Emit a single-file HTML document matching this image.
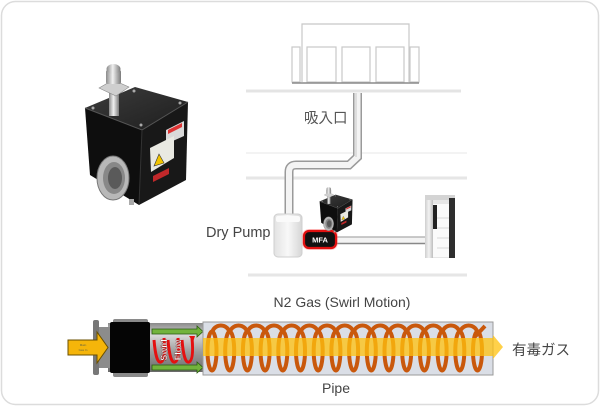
<!DOCTYPE html>
<html><head><meta charset="utf-8"><style>
html,body{margin:0;padding:0;background:#fff;}
svg{display:block;}
text{font-family:"Liberation Sans","Noto Sans CJK JP",sans-serif;}
</style></head><body>
<svg width="600" height="406" viewBox="0 0 600 406" xmlns="http://www.w3.org/2000/svg">
<defs>
<linearGradient id="top" x1="0" y1="0" x2="1" y2="1"><stop offset="0" stop-color="#3c3c3c"/><stop offset="1" stop-color="#1e1e1e"/></linearGradient>
<linearGradient id="silver" x1="0" y1="0" x2="1" y2="0"><stop offset="0" stop-color="#8a8a8a"/><stop offset="0.45" stop-color="#f0f0f0"/><stop offset="1" stop-color="#7a7a7a"/></linearGradient>
<linearGradient id="cyl" x1="0" y1="0" x2="0" y2="1"><stop offset="0" stop-color="#8a8a8a"/><stop offset="0.25" stop-color="#d8d8d8"/><stop offset="0.6" stop-color="#9a9a9a"/><stop offset="1" stop-color="#6a6a6a"/></linearGradient>
<linearGradient id="pump" x1="0" y1="0" x2="1" y2="0"><stop offset="0" stop-color="#e2e2e2"/><stop offset="0.5" stop-color="#f8f8f8"/><stop offset="1" stop-color="#d6d6d6"/></linearGradient>
<linearGradient id="post" x1="0" y1="0" x2="1" y2="0"><stop offset="0" stop-color="#cfcfcf"/><stop offset="0.5" stop-color="#f2f2f2"/><stop offset="1" stop-color="#bdbdbd"/></linearGradient>
<g id="cube">
  <polygon points="85,108 142,130 139,205 90,175" fill="#0e0e0e"/>
  <polygon points="142,130 188,102 186,180 139,205" fill="#181818"/>
  <polygon points="85,108 135,87 188,102 142,130" fill="url(#top)"/>
  <polyline points="85,108 142,130 188,102" fill="none" stroke="#555" stroke-width="1"/>
  <line x1="142" y1="130" x2="139" y2="205" stroke="#333" stroke-width="1"/>
  <circle cx="93" cy="108" r="1.5" fill="#aaa"/><circle cx="134" cy="91" r="1.5" fill="#aaa"/>
  <circle cx="180" cy="103" r="1.5" fill="#aaa"/><circle cx="141" cy="125" r="1.5" fill="#aaa"/>
  <rect x="109" y="92" width="10" height="24" fill="url(#silver)"/>
  <polygon points="99,88 113,80 129,87 116,96" fill="#cfcfcf" stroke="#888" stroke-width="0.6"/>
  <rect x="106" y="70" width="15" height="14" rx="2" fill="url(#silver)"/>
  <ellipse cx="113.5" cy="69" rx="7" ry="5" fill="url(#silver)"/>
  <polygon points="166,130 184,121 184,136 166,144" fill="#d9d9d9"/>
  <polygon points="168,130 182,123 182,127 168,134" fill="#d33"/>
  <polygon points="150,148 174,136 174,158 151,172" fill="#e9e9e2"/>
  <polygon points="154,166 159,154 164,163" fill="#f2c400" stroke="#333" stroke-width="0.6"/>
  <polygon points="153,176 169,168 169,174 153,182" fill="#c0282a"/>
  <ellipse cx="113" cy="178" rx="16" ry="22" fill="#b8b8b8" stroke="#777" stroke-width="1"/>
  <ellipse cx="114" cy="178" rx="11" ry="16" fill="#888"/>
  <ellipse cx="115" cy="178" rx="7" ry="11" fill="#5a5a5a"/>
  <rect x="129" y="199" width="5" height="6" fill="#aaa"/>
</g>
</defs>

<rect x="1.5" y="1.5" width="597" height="403" rx="14" fill="#fff" stroke="#dcdcdc" stroke-width="1.5"/>

<use href="#cube"/>

<g fill="none" stroke="#c8c8c8" stroke-width="1.2">
  <polyline points="302,82 302,24 409,24 409,82"/>
  <rect x="292" y="47" width="8" height="35"/>
  <rect x="410" y="47" width="9" height="35"/>
  <rect x="307" y="47" width="29" height="35"/>
  <rect x="342" y="47" width="28" height="35"/>
  <rect x="376" y="47" width="28" height="35"/>
</g>
<line x1="292" y1="83" x2="419" y2="83" stroke="#8a8a8a" stroke-width="1.5"/>

<line x1="246" y1="91" x2="461" y2="91" stroke="#e4e4e4" stroke-width="3"/>
<line x1="246" y1="153" x2="467" y2="153" stroke="#f3f3f3" stroke-width="2"/>
<line x1="246" y1="178" x2="467" y2="178" stroke="#e6e6e6" stroke-width="3"/>
<line x1="248" y1="275" x2="467" y2="275" stroke="#e6e6e6" stroke-width="3"/>

<path d="M357.5,93 L357.5,157 L349,165 L296,165 Q289,165 289,172 L289,214" fill="none" stroke="#9a9a9a" stroke-width="9"/>
<path d="M357.5,93 L357.5,157 L349,165 L296,165 Q289,165 289,172 L289,214" fill="none" stroke="#f4f4f4" stroke-width="6"/>
<path d="M356,93 L356,157" stroke="#c8c8c8" stroke-width="1"/>

<text x="304" y="123" font-size="14.5" fill="#555">吸入口</text>

<rect x="336" y="237" width="91" height="7" fill="#f3f3f3"/>
<line x1="336" y1="237" x2="427" y2="237" stroke="#aaa" stroke-width="1.2"/>
<line x1="336" y1="243.5" x2="427" y2="243.5" stroke="#888" stroke-width="1.4"/>

<rect x="274" y="214" width="28" height="43" rx="4" fill="url(#pump)" stroke="#cfcfcf" stroke-width="1"/>
<rect x="276" y="216" width="24" height="6" rx="2" fill="#fafafa"/>
<text x="206" y="237" font-size="14.5" fill="#444">Dry Pump</text>

<rect x="302" y="229" width="36" height="21" rx="7" fill="#f66" opacity="0.35"/>
<rect x="304" y="231" width="32" height="17" rx="5" fill="#111" stroke="#e01010" stroke-width="2.2"/>
<text x="320" y="242.5" font-size="7.5" font-weight="bold" fill="#fff" text-anchor="middle">MFA</text>

<use href="#cube" transform="translate(292.4,166.8) scale(0.32)"/>

<rect x="425" y="195" width="30" height="63" fill="#e6e6e6"/>
<rect x="425" y="195" width="8" height="63" fill="url(#post)"/>
<rect x="425" y="195" width="30" height="5" fill="#d4d4d4"/>
<rect x="449" y="198" width="6" height="60" fill="#2e2e2e"/>
<rect x="433" y="204" width="16" height="53" fill="#fafafa"/>
<rect x="433" y="205" width="4" height="24" fill="#222"/>
<g stroke="#d0d0d0" stroke-width="0.8">
<line x1="437" y1="218" x2="449" y2="218"/><line x1="437" y1="228" x2="449" y2="228"/>
<line x1="437" y1="238" x2="449" y2="238"/><line x1="437" y1="248" x2="449" y2="248"/>
</g>

<text x="342" y="307" font-size="14" fill="#444" text-anchor="middle">N2 Gas (Swirl Motion)</text>

<rect x="108" y="323" width="95" height="49" fill="url(#cyl)"/>
<rect x="93" y="320" width="6" height="55" rx="2" fill="#777"/>
<rect x="99" y="327" width="13" height="41" fill="#8c8c8c"/>
<rect x="113" y="319" width="35" height="58" rx="2" fill="#8a8a8a"/>
<rect x="110" y="322" width="40" height="51" rx="2" fill="#050505"/>

<polygon points="68,340 97,340 97,332 108,347.5 97,363 97,355 68,355" fill="#f5b50a" stroke="#6b5000" stroke-width="1"/>
<text x="83" y="346" font-size="3" fill="#664" text-anchor="middle">Main</text>
<text x="83" y="351" font-size="3" fill="#664" text-anchor="middle">Gas In</text>

<g fill="none" stroke="#e41010" stroke-width="3">
<path d="M154,340 Q156,364 161,362 Q166,360 164,338"/>
<path d="M168,340 Q170,364 175,362 Q180,360 178,338"/>
<path d="M182,340 Q184,364 189,362 Q194,360 192,338"/>
</g>
<polygon points="189,336 193,342 195,336" fill="#e41010"/>
<text transform="translate(167,350) rotate(-90)" font-size="9" font-weight="bold" fill="#fff" stroke="#600" stroke-width="0.3" text-anchor="middle">Swirl</text>
<text transform="translate(181,350) rotate(-90)" font-size="9" font-weight="bold" fill="#fff" stroke="#600" stroke-width="0.3" text-anchor="middle">Flow</text>

<polygon points="152,329 197,329 197,326 203,331.5 197,337 197,334 152,334" fill="#72b33c" stroke="#2a5a10" stroke-width="0.8"/>
<polygon points="152,365 197,365 197,362 203,367.5 197,373 197,370 152,370" fill="#72b33c" stroke="#2a5a10" stroke-width="0.8"/>

<rect x="203" y="322" width="290" height="53" fill="#dadee6" stroke="#9a9a9a" stroke-width="1"/>

<g fill="none" stroke="#c9580c" stroke-width="4">
<path d="M212,334 A8.85,8.5 0 0 1 229.7,334 A8.85,8.5 0 0 1 247.4,334 A8.85,8.5 0 0 1 265.1,334 A8.85,8.5 0 0 1 282.8,334 A8.85,8.5 0 0 1 300.5,334 A8.85,8.5 0 0 1 318.2,334 A8.85,8.5 0 0 1 335.9,334 A8.85,8.5 0 0 1 353.6,334 A8.85,8.5 0 0 1 371.3,334 A8.85,8.5 0 0 1 389,334 A8.85,8.5 0 0 1 406.7,334 A8.85,8.5 0 0 1 424.4,334 A8.85,8.5 0 0 1 442.1,334 A8.85,8.5 0 0 1 459.8,334 A8.85,8.5 0 0 1 477.5,334 L485,326"/>
<ellipse cx="212" cy="351" rx="4.5" ry="19.5"/><ellipse cx="229.7" cy="351" rx="4.5" ry="19.5"/>
<ellipse cx="247.4" cy="351" rx="4.5" ry="19.5"/><ellipse cx="265.1" cy="351" rx="4.5" ry="19.5"/>
<ellipse cx="282.8" cy="351" rx="4.5" ry="19.5"/><ellipse cx="300.5" cy="351" rx="4.5" ry="19.5"/>
<ellipse cx="318.2" cy="351" rx="4.5" ry="19.5"/><ellipse cx="335.9" cy="351" rx="4.5" ry="19.5"/>
<ellipse cx="353.6" cy="351" rx="4.5" ry="19.5"/><ellipse cx="371.3" cy="351" rx="4.5" ry="19.5"/>
<ellipse cx="389" cy="351" rx="4.5" ry="19.5"/><ellipse cx="406.7" cy="351" rx="4.5" ry="19.5"/>
<ellipse cx="424.4" cy="351" rx="4.5" ry="19.5"/><ellipse cx="442.1" cy="351" rx="4.5" ry="19.5"/>
<ellipse cx="459.8" cy="351" rx="4.5" ry="19.5"/><ellipse cx="477.5" cy="351" rx="4.5" ry="19.5"/>
</g>

<polygon points="203,338 493,338 493,335 503,347 493,359 493,356 203,356" fill="#ffc20e" opacity="0.75"/>

<text x="512" y="355" font-size="14.5" fill="#444">有毒ガス</text>
<text x="336" y="393" font-size="14" fill="#444" text-anchor="middle">Pipe</text>
</svg>
</body></html>
